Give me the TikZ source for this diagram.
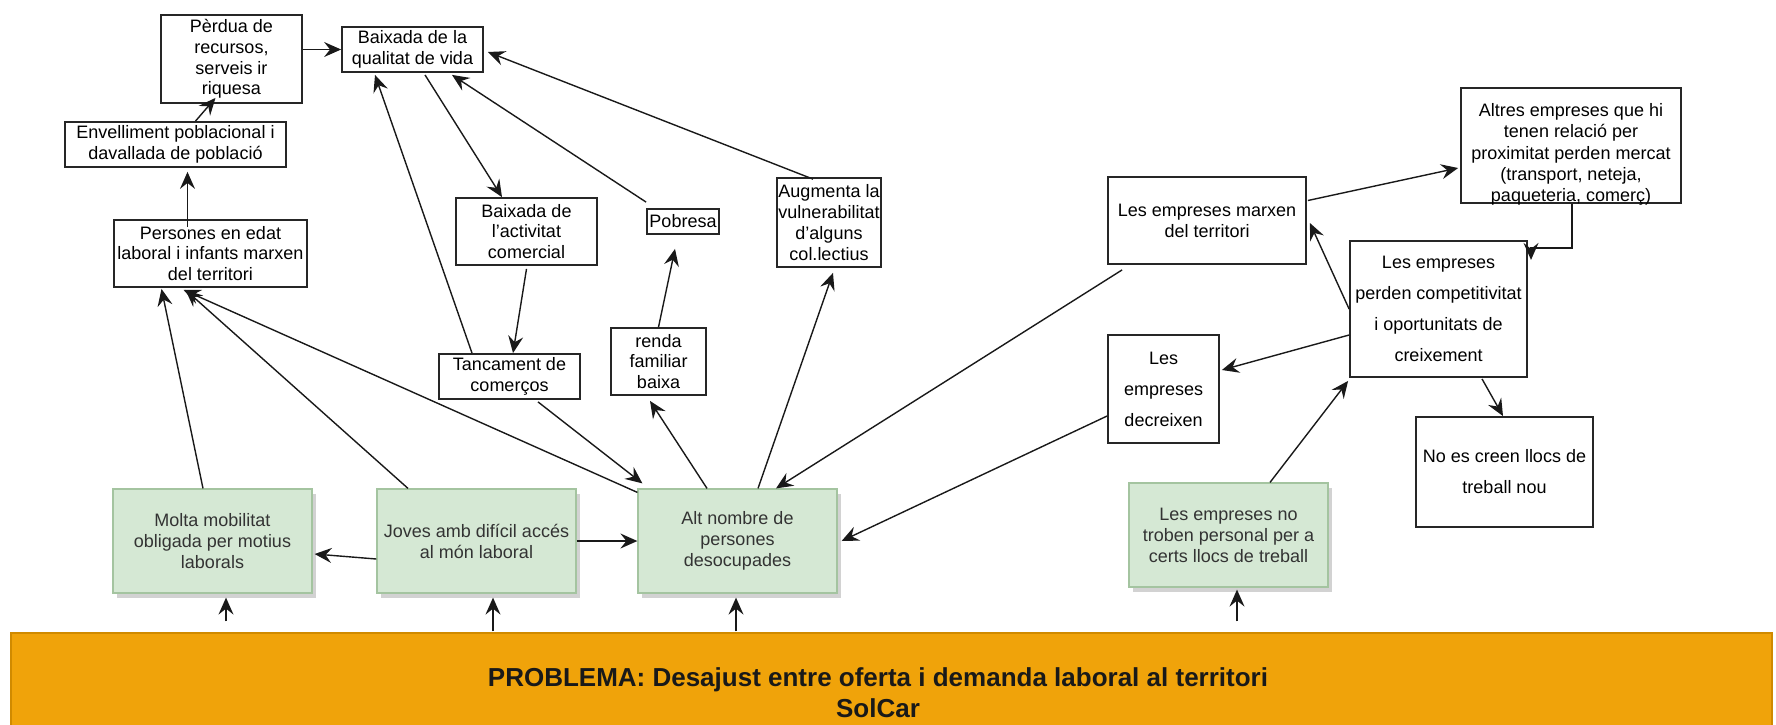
\documentclass[tikz,border=0pt]{standalone}
\usepackage{fontspec}
\setmainfont{Liberation Sans}
\usetikzlibrary{arrows.meta,calc,shadows}
\definecolor{greenfill}{HTML}{D5E8D4}
\definecolor{greenline}{HTML}{A4C4A0}
\definecolor{orangefill}{HTML}{F0A30A}
\definecolor{orangeline}{HTML}{D08A00}
\definecolor{txtgray}{HTML}{333333}
\begin{document}
\begin{tikzpicture}[x=0.5pt,y=-0.5pt,
  sz/.style 2 args={minimum width={#1*0.5pt}, minimum height={#2*0.5pt}},
  wbox/.style={draw=black!85, line width=0.9pt, fill=white, inner sep=0pt, align=center, font=\fontsize{9}{10.4}\selectfont},
  widebox/.style={wbox, font=\fontsize{9}{15.5}\selectfont},
  gbox/.style={draw=greenline, line width=0.6pt, fill=greenfill, inner sep=0pt, align=center, text=txtgray,
    font=\fontsize{9}{10.5}\selectfont,
    drop shadow={shadow xshift=2pt, shadow yshift=-2.5pt, fill=black!35, opacity=0.5}},
  arr/.style={-{Stealth[length=8.5pt,width=7.5pt,inset=3pt]}, line width=0.7pt, black!90},
]
\useasboundingbox (0,0) rectangle (1776,724);

% orange problem bar
\node[draw=orangeline, fill=orangefill, line width=0.6pt, inner sep=0pt, sz={1761}{97}] (problema) at (891.5,681.5) {};
\node[font=\bfseries\fontsize{13}{15.5}\selectfont, align=center, text=black!90, inner sep=0pt] (probt) at (878,693)
  {PROBLEMA: Desajust entre oferta i demanda laboral al territori\\SolCar};

% white boxes
\node[wbox, sz={141}{88}] (perdua) at (231.5,59) {Pèrdua de\\recursos,\\serveis ir\\riquesa};
\node[wbox, sz={141}{45}] (bq) at (412.5,49.5) {Baixada de la\\qualitat de vida};
\node[wbox, sz={221}{45}] (env) at (175.5,144.5) {Envelliment poblacional i\\davallada de població};
\node[wbox, sz={193}{67}] (pers) at (210.5,253.5) {Persones en edat\\laboral i infants marxen\\del territori};
\node[wbox, sz={141}{67}] (ba) at (526.5,231.5) {Baixada de\\l'activitat\\comercial};
\node[wbox, sz={72}{25}] (pob) at (683,221.5) {Pobresa};
\node[wbox, sz={104}{89}] (aug) at (829,222.5) {Augmenta la\\vulnerabilitat\\d'alguns\\col.lectius};
\node[wbox, sz={141}{45}] (tanc) at (509.5,376.5) {Tancament de\\comerços};
\node[wbox, sz={95}{67}] (renda) at (658.5,361.5) {renda\\familiar\\baixa};
\node[wbox, sz={198}{87}] (marxen) at (1207,220.5) {Les empreses marxen\\del territori};
\node[wbox, sz={220}{115}] (altres) at (1571,145.5) {};
\node[align=center, inner sep=0pt, font=\fontsize{9}{10.6}\selectfont] (altrest) at (1571,154.5)
  {Altres empreses que hi\\tenen relació per\\proximitat perden mercat\\(transport, neteja,\\paqueteria, comerç)};
\node[widebox, sz={177}{136}] (perden) at (1438.5,309) {Les empreses\\perden competitivitat\\i oportunitats de\\creixement};
\node[widebox, sz={111}{108}] (decr) at (1163.5,389) {Les\\empreses\\decreixen};
\node[widebox, sz={177}{110}] (nocreen) at (1504.5,472) {No es creen llocs de\\treball nou};

% green boxes
\node[gbox, sz={199}{104}] (molta) at (212.5,541) {Molta mobilitat\\obligada per motius\\laborals};
\node[gbox, sz={199}{104}] (joves) at (476.5,541) {Joves amb difícil accés\\al món laboral};
\node[gbox, sz={199}{104}] (alt) at (737.5,541) {Alt nombre de\\persones\\desocupades};
\node[gbox, sz={199}{104}] (notrob) at (1228.5,535) {Les empreses no\\troben personal per a\\certs llocs de treball};

% connectors
\draw[arr] (perdua.east |- bq.west) -- (bq.west);
\draw[arr] ($(env.north)+(20,0)$) -- ($(perdua.south)+(-16,-6)$);
\draw[arr] ($(pers.north)+(-23,8)$) -- ($(env.south)+(12,4)$);
\draw[arr] ($(molta.north)+(-9.5,0)$) -- ($(pers.south)+(-49,1)$);
\draw[arr] ($(joves.north)+(-68.5,0)$) -- ($(pers.south)+(-25,2)$);
\draw[arr] ($(alt.north west)+(0,4)$) -- ($(pers.south)+(-27,2)$);
\draw[arr] ($(tanc.north)+(-37.5,0)$) -- ($(bq.south)+(-37.5,2)$);
\draw[arr] ($(bq.south)+(12.5,2)$) -- ($(ba.north)+(-24.5,0)$);
\draw[arr] ($(pob.north west)+(0,-6)$) -- ($(bq.south)+(39.5,2)$);
\draw[arr] ($(aug.north)+(-16,2)$) -- ($(bq.east)+(4,2.5)$);
\draw[arr] ($(ba.south)+(0,3)$) -- ($(tanc.north)+(3.5,0)$);
\draw[arr] ($(tanc.south)+(28.5,2)$) -- ($(alt.north west)+(5,-5)$);
\draw[arr] ($(alt.north)+(-30.5,0)$) -- ($(renda.south)+(-8.5,5)$);
\draw[arr] (renda.north) -- ($(pob.south)+(-8,14)$);
\draw[arr] ($(alt.north)+(20.5,0)$) -- ($(aug.south)+(4,5)$);
\draw[arr] ($(joves.west)+(0,18)$) -- ($(molta.east)+(2,13)$);
\draw[arr] (joves.east) -- (alt.west);
\draw[arr] ($(marxen.south west)+(15,5)$) -- ($(alt.north)+(38.5,0)$);
\draw[arr] ($(decr.west)+(0,27)$) -- ($(alt.east)+(4,0)$);
\draw[arr] ($(marxen.east)+(1,-20)$) -- ($(altres.west)+(-2,22.5)$);
\draw[arr] ($(altres.south)+(1,0)$) -- ++(0,44) -- ++(-41,0) -- ++(0,12);
\draw[arr] (perden.west) -- ($(marxen.east)+(3,2.5)$);
\draw[arr] ($(perden.west)+(0,26)$) -- ($(decr.east)+(2,-19)$);
\draw[arr] ($(perden.south)+(43.5,1)$) -- ($(nocreen.north)+(-1.5,0)$);
\draw[arr] ($(notrob.north)+(41.5,0)$) -- ($(perden.south west)+(-1,3)$);

\draw[arr] ($(problema.north -| molta.south)+(13.5,-11)$) -- ($(molta.south)+(13.5,4)$);
\draw[arr] ($(problema.north -| joves.south)+(16.5,-1)$) -- ($(joves.south)+(16.5,4)$);
\draw[arr] ($(problema.north -| alt.south)+(-1.5,-1)$) -- ($(alt.south)+(-1.5,4)$);
\draw[arr] ($(problema.north -| notrob.south)+(8.5,-11)$) -- ($(notrob.south)+(8.5,2)$);
\end{tikzpicture}
\end{document}
